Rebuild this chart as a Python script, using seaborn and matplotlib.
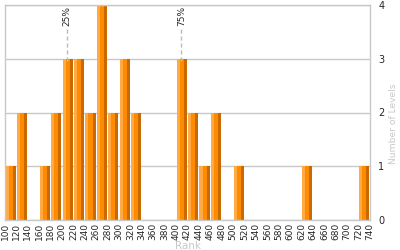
import numpy as np
import pandas as pd
import matplotlib
matplotlib.use("Agg")
import matplotlib.pyplot as plt
import seaborn as sns

# Data
bin_edges = list(range(100, 741, 20))
counts = [1, 2, 0, 1, 2, 3, 3, 2, 4, 2, 3, 2, 0, 0, 0, 3,
          2, 1, 2, 0, 1, 0, 0, 0, 0, 0, 1, 0, 0, 0, 0, 1]
percentile_labels = ["25%", "75%"]
percentile_values = [209, 409]
y_ticks = [0, 1, 2, 3, 4]

sns.set_style("white")
plt.rcParams['font.family'] = ['DejaVu Sans']

fig = plt.figure(figsize=(4, 2.5), dpi=100)
ax = fig.add_axes([0.0125, 0.12, 0.9125, 0.86])

left = np.array(bin_edges[:-1], dtype=float)
cnt = np.array(counts, dtype=float)
width = 20.0
gap = 2.0
bw = width - gap

# main bar via seaborn histogram
df = pd.DataFrame({"rank": left + width / 2, "n": cnt})
sns.histplot(data=df, x="rank", weights="n", bins=bin_edges, ax=ax,
             color="#FF8C00", alpha=1, edgecolor="none", linewidth=0, shrink=bw / width)
# shading strips
ax.bar(left + gap / 2, cnt, width=bw * 0.3, align="edge", color="#FFAA44", linewidth=0)
ax.bar(left + gap / 2 + bw * 0.7, cnt, width=bw * 0.3, align="edge", color="#C86A00", linewidth=0)

ax.set_xlim(100, 740)
ax.set_ylim(0, 4)
ax.set_xticks(bin_edges)
ax.set_xticklabels([str(v) for v in bin_edges], rotation=90, fontsize=6.5)
ax.yaxis.tick_right()
ax.yaxis.set_label_position("right")
ax.set_yticks(y_ticks)
ax.set_yticklabels([str(v) for v in y_ticks], fontsize=7)
ax.tick_params(axis="both", length=0, pad=2)
ax.tick_params(axis="y", pad=6)
ax.grid(axis="y", color="#c8c8c8", linewidth=1)
ax.set_axisbelow(True)
for s in ax.spines.values():
    s.set_color("#c8c8c8")
    s.set_linewidth(1)

ax.set_xlabel("Rank", color="#c8c8c8", fontsize=7.5, labelpad=1)
ax.set_ylabel("Number of Levels", color="#c8c8c8", fontsize=6.6, rotation=90)
ax.yaxis.set_label_coords(1.052, 0.45)

for lab, val in zip(percentile_labels, percentile_values):
    ax.plot([val, val], [2.95, 3.55], color="#bbbbbb", linestyle=(0, (3, 2)), linewidth=1)
    ax.text(val, 3.6, lab, rotation=90, fontsize=6.5, ha="center", va="bottom")

fig.savefig("out.png", dpi=100)
